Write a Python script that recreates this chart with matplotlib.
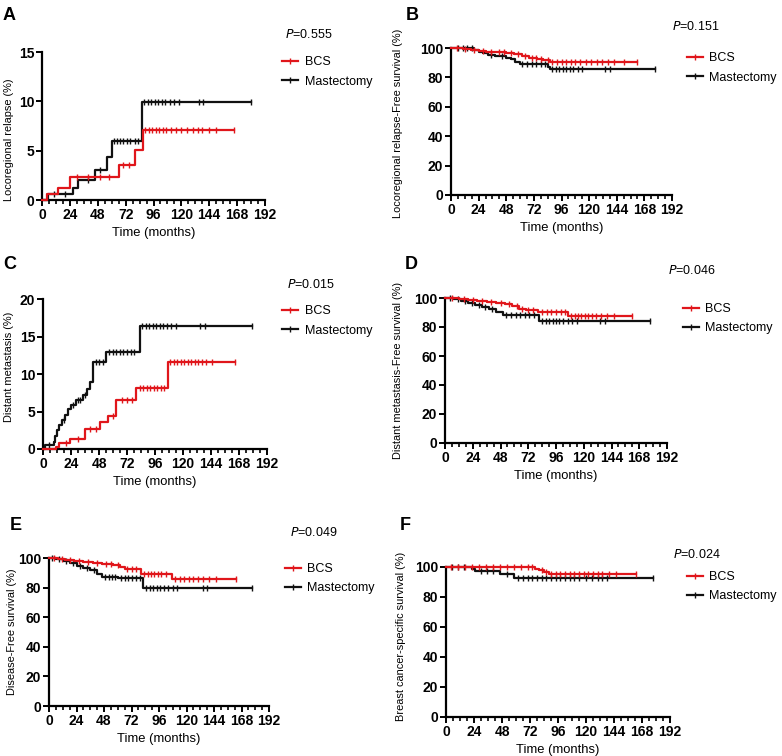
import numpy as np
import matplotlib
matplotlib.use("Agg")
import matplotlib.pyplot as plt
from matplotlib.lines import Line2D
from matplotlib.ticker import MultipleLocator

plt.rcParams['font.family'] = ['Liberation Sans', 'DejaVu Sans']

RED = '#e0161b'
BLK = '#111111'

# ---- data ----
# A: locoregional relapse (cumulative %)
a_bcs_t = [0, 4, 14, 24, 66, 80, 87]
a_bcs_y = [0, 0.6, 1.2, 2.3, 3.5, 5.1, 7.1]
a_bcs_end = 165
a_bcs_cens = [30, 40, 50, 58, 70, 75, 89, 92, 95, 98, 101, 104, 107, 111, 115, 120, 125, 130, 134, 138, 144, 150, 165]
a_mas_t = [0, 5, 27, 31, 46, 56, 60, 86]
a_mas_y = [0, 0.6, 1.2, 2.0, 3.0, 4.4, 6.0, 9.9]
a_mas_end = 180
a_mas_cens = [10, 20, 40, 50, 62, 65, 67, 70, 73, 76, 80, 83, 88, 91, 94, 97, 100, 103, 106, 110, 114, 118, 135, 139, 180]

# B: locoregional relapse-free survival (%)
b_bcs_t = [0, 10, 17, 24, 30, 40, 48, 55, 62, 68, 75, 80, 86]
b_bcs_y = [100, 99.4, 98.8, 98.2, 97.6, 97.0, 96.4, 95.8, 94.6, 93.4, 92.8, 91.6, 90.4]
b_bcs_end = 162
b_bcs_cens = [5, 12, 20, 28, 35, 42, 46, 52, 58, 64, 70, 74, 78, 84, 88, 92, 96, 100, 104, 108, 112, 117, 122, 127, 131, 136, 142, 150, 162]
b_mas_t = [0, 20, 24, 28, 32, 38, 48, 52, 56, 60, 84, 86]
b_mas_y = [100, 98.8, 97.6, 96.4, 95.2, 94.6, 93.4, 92.2, 90.4, 89.2, 87.4, 85.6]
b_mas_end = 177
b_mas_cens = [6, 10, 14, 18, 35, 44, 62, 66, 70, 74, 78, 82, 88, 91, 94, 97, 100, 103, 106, 110, 114, 134, 138, 177]

# C: distant metastasis (cumulative %)
c_bcs_t = [0, 11, 14, 23, 36, 49, 56, 63, 80, 107]
c_bcs_y = [0, 0.3, 0.8, 1.4, 2.7, 3.6, 4.4, 6.6, 8.2, 11.6]
c_bcs_end = 165
c_bcs_cens = [20, 30, 40, 45, 60, 68, 72, 76, 83, 86, 89, 92, 95, 98, 101, 104, 109, 112, 115, 118, 121, 124, 127, 130, 133, 136, 140, 145, 165]
c_mas_t = [0, 2, 9, 10, 12, 14, 16, 19, 21, 24, 28, 34, 38, 40, 43, 54, 83]
c_mas_y = [0, 0.5, 1.0, 1.8, 2.5, 3.2, 3.9, 4.6, 5.3, 5.9, 6.5, 7.2, 8.0, 9.0, 11.6, 13.0, 16.4]
c_mas_end = 179
c_mas_cens = [5, 18, 26, 30, 32, 36, 45, 48, 51, 57, 60, 63, 66, 69, 72, 75, 78, 85, 88, 91, 94, 97, 100, 103, 106, 110, 114, 135, 139, 179]

# D: distant metastasis-free survival (%)
d_bcs_t = [0, 12, 20, 28, 36, 44, 52, 58, 64, 70, 80, 106]
d_bcs_y = [100, 99.3, 98.6, 97.9, 97.2, 96.5, 95.8, 94.4, 92.7, 91.8, 90.6, 87.4]
d_bcs_end = 162
d_bcs_cens = [6, 16, 24, 32, 40, 48, 55, 62, 67, 72, 76, 84, 88, 92, 96, 100, 104, 109, 112, 115, 118, 121, 124, 127, 131, 135, 140, 146, 162]
d_mas_t = [0, 8, 14, 20, 26, 32, 38, 44, 50, 81]
d_mas_y = [100, 99.3, 97.9, 96.5, 95.1, 93.7, 92.3, 90.2, 88.0, 84.0]
d_mas_end = 177
d_mas_cens = [4, 11, 17, 23, 29, 35, 41, 53, 57, 61, 65, 69, 73, 77, 84, 87, 90, 93, 96, 99, 102, 106, 110, 114, 134, 138, 177]

# E: disease-free survival (%)
e_bcs_t = [0, 8, 14, 22, 30, 38, 46, 56, 62, 66, 80, 107]
e_bcs_y = [100, 99.3, 98.6, 97.9, 97.2, 96.5, 95.8, 95.1, 93.6, 92.3, 89.4, 85.7]
e_bcs_end = 163
e_bcs_cens = [4, 11, 18, 26, 34, 42, 50, 54, 60, 68, 72, 76, 83, 86, 89, 92, 95, 98, 102, 110, 114, 118, 122, 126, 130, 134, 140, 146, 163]
e_mas_t = [0, 6, 12, 18, 24, 30, 36, 42, 46, 60, 82]
e_mas_y = [100, 99.2, 97.8, 96.4, 94.4, 93.0, 91.6, 89.5, 87.5, 86.8, 79.6]
e_mas_end = 177
e_mas_cens = [3, 9, 15, 21, 27, 33, 39, 49, 52, 55, 58, 63, 66, 69, 72, 76, 79, 85, 88, 91, 94, 97, 100, 104, 108, 112, 134, 138, 177]

# F: breast cancer-specific survival (%)
f_bcs_t = [0, 76, 80, 84, 88]
f_bcs_y = [100, 99.0, 97.8, 96.6, 95.6]
f_bcs_end = 163
f_bcs_cens = [4, 10, 16, 22, 28, 34, 40, 46, 52, 58, 64, 70, 74, 82, 86, 90, 94, 98, 102, 106, 110, 114, 118, 122, 126, 130, 134, 140, 146, 163]
f_mas_t = [0, 22, 25, 46, 58]
f_mas_y = [100, 98.9, 97.2, 95.6, 92.9]
f_mas_end = 177
f_mas_cens = [5, 10, 15, 30, 35, 40, 52, 62, 66, 70, 74, 78, 82, 86, 90, 94, 98, 102, 106, 110, 114, 120, 125, 130, 134, 138, 177]

series_labels = ['BCS', 'Mastectomy']
xticks = list(range(0, 193, 24))

panels = [
    # letter, bcs, mas, ymax, yticks, ylabel, p value,
    # axes px (l, r, top, bottom), ylabel centre px, P xy, legend xy, letter xy
    ('A', (a_bcs_t, a_bcs_y, a_bcs_end, a_bcs_cens), (a_mas_t, a_mas_y, a_mas_end, a_mas_cens),
     15, [0, 5, 10, 15], 'Locoregional relapse (%)', '0.555',
     (42, 265, 52, 200), (9, 140), (285, 35), (282, 56), (3, 15)),
    ('B', (b_bcs_t, b_bcs_y, b_bcs_end, b_bcs_cens), (b_mas_t, b_mas_y, b_mas_end, b_mas_cens),
     100, [0, 20, 40, 60, 80, 100], 'Locoregional relapse-Free survival (%)', '0.151',
     (451, 672, 48, 195), (398, 123), (672, 27), (687, 52), (406, 15)),
    ('C', (c_bcs_t, c_bcs_y, c_bcs_end, c_bcs_cens), (c_mas_t, c_mas_y, c_mas_end, c_mas_cens),
     20, [0, 5, 10, 15, 20], 'Distant metastasis (%)', '0.015',
     (43, 267, 299, 449), (9, 367), (287, 285), (282, 305), (3, 265)),
    ('D', (d_bcs_t, d_bcs_y, d_bcs_end, d_bcs_cens), (d_mas_t, d_mas_y, d_mas_end, d_mas_cens),
     100, [0, 20, 40, 60, 80, 100], 'Distant metastasis-Free survival (%)', '0.046',
     (445, 667, 298, 443), (398, 370), (668, 270), (683, 303), (405, 265)),
    ('E', (e_bcs_t, e_bcs_y, e_bcs_end, e_bcs_cens), (e_mas_t, e_mas_y, e_mas_end, e_mas_cens),
     100, [0, 20, 40, 60, 80, 100], 'Disease-Free survival (%)', '0.049',
     (49, 269, 558, 706), (12, 632), (290, 533), (285, 563), (10, 526)),
    ('F', (f_bcs_t, f_bcs_y, f_bcs_end, f_bcs_cens), (f_mas_t, f_mas_y, f_mas_end, f_mas_cens),
     100, [0, 20, 40, 60, 80, 100], 'Breast cancer-specific survival (%)', '0.024',
     (446, 670, 567, 717), (401, 636), (673, 555), (687, 571), (400, 526)),
]

W, H = 782, 756
fig = plt.figure(figsize=(W / 100, H / 100), dpi=100)


def step_value(t, v, x):
    idx = np.searchsorted(t, x, side='right') - 1
    return np.asarray(v)[idx]


def draw_curve(ax, data, color):
    t, v, end, cens = data
    tt = list(t) + [end]
    vv = list(v) + [v[-1]]
    ax.step(tt, vv, where='post', color=color, lw=1.6, clip_on=False, zorder=3)
    c = np.array(cens)
    ax.plot(c, step_value(t, v, c), ls='none', marker='|', ms=4, mew=1.0,
            color=color, clip_on=False, zorder=3)


for (letter, bcs, mas, ymax, yticks, ylabel, pval, box, ylab, pxy, lxy, lett) in panels:
    l, r, top, bot = box
    ax = fig.add_axes([l / W, 1 - bot / H, (r - l) / W, (bot - top) / H])
    draw_curve(ax, mas, BLK)
    draw_curve(ax, bcs, RED)
    ax.set_xlim(0, 192)
    ax.set_ylim(0, ymax)
    ax.set_xticks(xticks)
    ax.xaxis.set_minor_locator(MultipleLocator(6))
    ax.set_yticks(yticks)
    for s in ['top', 'right']:
        ax.spines[s].set_visible(False)
    for s in ['left', 'bottom']:
        ax.spines[s].set_linewidth(1.6)
    ax.tick_params(which='major', direction='out', length=4, width=1.4, labelsize=10, pad=1.5)
    ax.tick_params(which='minor', direction='out', length=3, width=1.2)
    for lab in ax.get_xticklabels() + ax.get_yticklabels():
        lab.set_fontweight('bold')
    ax.set_xlabel('Time (months)', fontsize=9.4, labelpad=4)
    ax.set_ylabel(ylabel, fontsize=7.9)
    # place y label centre at a fixed pixel position
    ax.yaxis.set_label_coords((ylab[0] + 5 - l) / (r - l), (bot - ylab[1]) / (bot - top))

    fig.text(pxy[0] / W, 1 - pxy[1] / H, r'$\it{P}$=' + pval, fontsize=9,
             ha='left', va='center')
    handles = [Line2D([], [], color=RED, lw=1.6, marker='|', ms=4),
               Line2D([], [], color=BLK, lw=1.6, marker='|', ms=4)]
    fig.legend(handles, series_labels, loc='upper left',
               bbox_to_anchor=(lxy[0] / W, 1 - lxy[1] / H), frameon=False,
               fontsize=9, handlelength=1.3, handletextpad=0.5,
               borderpad=0, borderaxespad=0, labelspacing=0.6)
    fig.text(lett[0] / W, 1 - lett[1] / H, letter, fontsize=13, fontweight='bold',
             ha='left', va='center')

fig.savefig('out.png', dpi=100)
